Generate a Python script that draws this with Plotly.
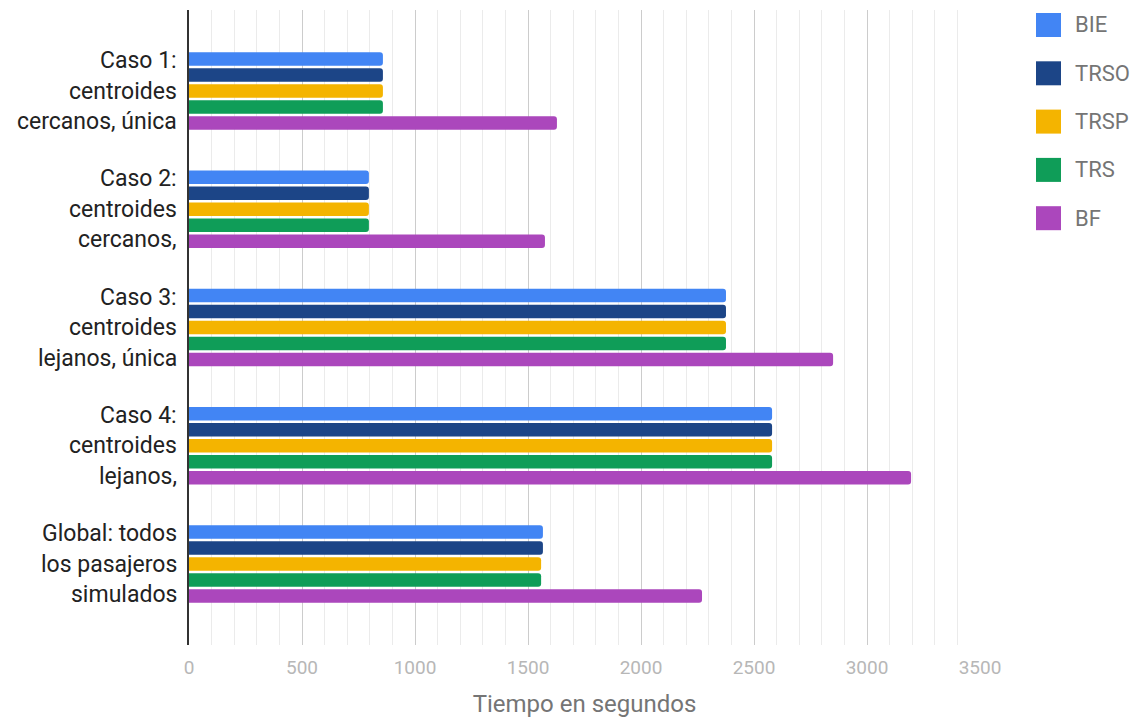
import plotly.graph_objects as go

category_lines = [
    ["Caso 1:", "centroides", "cercanos, única"],
    ["Caso 2:", "centroides", "cercanos,"],
    ["Caso 3:", "centroides", "lejanos, única"],
    ["Caso 4:", "centroides", "lejanos,"],
    ["Global: todos", "los pasajeros", "simulados"],
]
categories = [" ".join(c) for c in category_lines]

series_names = ["BIE", "TRSO", "TRSP", "TRS", "BF"]
BIE = [858, 796, 2376, 2580, 1566]
TRSO = [858, 796, 2376, 2580, 1566]
TRSP = [858, 796, 2376, 2580, 1558]
TRS = [858, 796, 2376, 2580, 1558]
BF = [1628, 1575, 2850, 3195, 2270]
series_values = [BIE, TRSO, TRSP, TRS, BF]
colors = ["#4285F4", "#1C4587", "#F4B400", "#0F9D58", "#AB47BC"]

x_ticks = [0, 500, 1000, 1500, 2000, 2500, 3000, 3500]
x_title = "Tiempo en segundos"

fig = go.Figure()
for name, vals, col in zip(series_names, series_values, colors):
    fig.add_trace(go.Bar(
        y=categories, x=vals, name=name, orientation="h",
        marker=dict(color=col, line=dict(width=0)),
        showlegend=False,
    ))

# category labels as separate lines
annotations = []
for cat, lines in zip(categories, category_lines):
    n = len(lines)
    for i, line in enumerate(lines):
        annotations.append(dict(
            text=line, xref="paper", yref="y", x=0, y=cat,
            xanchor="right", yanchor="middle", xshift=-10,
            yshift=((n - 1) / 2 - i) * 30.5,
            showarrow=False, font=dict(family="Roboto", size=23, color="#222222"),
        ))

# manual legend
shapes = []
for i, (name, col) in enumerate(zip(series_names, colors)):
    yc = 25 + i * 48.3
    ypaper = (645 - yc) / 635
    shapes.append(dict(
        type="rect", xref="paper", yref="paper",
        xsizemode="pixel", ysizemode="pixel",
        xanchor=1.0, yanchor=ypaper,
        x0=56, x1=81, y0=-12, y1=12,
        fillcolor=col, line=dict(width=0),
    ))
    annotations.append(dict(
        text=name, xref="paper", yref="paper", x=1.0, y=ypaper,
        xanchor="left", yanchor="middle", xshift=93,
        showarrow=False, font=dict(family="Roboto", size=22, color="#757575"),
    ))

fig.update_layout(
    width=1135, height=722,
    margin=dict(l=189, r=155, t=10, b=77),
    paper_bgcolor="white", plot_bgcolor="white",
    barmode="group", bargap=0.324, bargroupgap=0.15,
    barcornerradius=3,
    font=dict(family="Roboto"),
    annotations=annotations, shapes=shapes,
    xaxis=dict(
        range=[0, 3500], tickvals=x_ticks, ticks="",
        ticklabelstandoff=9, automargin=False,
        tickfont=dict(family="Roboto", size=19, color="#b7b7b7"),
        showgrid=True, gridcolor="#cccccc", gridwidth=1,
        minor=dict(dtick=100, showgrid=True, gridcolor="#ebebeb", gridwidth=1),
        zeroline=False, showline=False,
        title=dict(text=x_title, font=dict(family="Roboto", size=24, color="#757575"), standoff=17),
    ),
    yaxis=dict(
        categoryorder="array", categoryarray=categories,
        range=[4.685, -0.685], showticklabels=False, ticks="",
        showgrid=False, zeroline=False, automargin=False,
        showline=True, linecolor="#333333", linewidth=2,
    ),
)

fig.write_html("out.html")
